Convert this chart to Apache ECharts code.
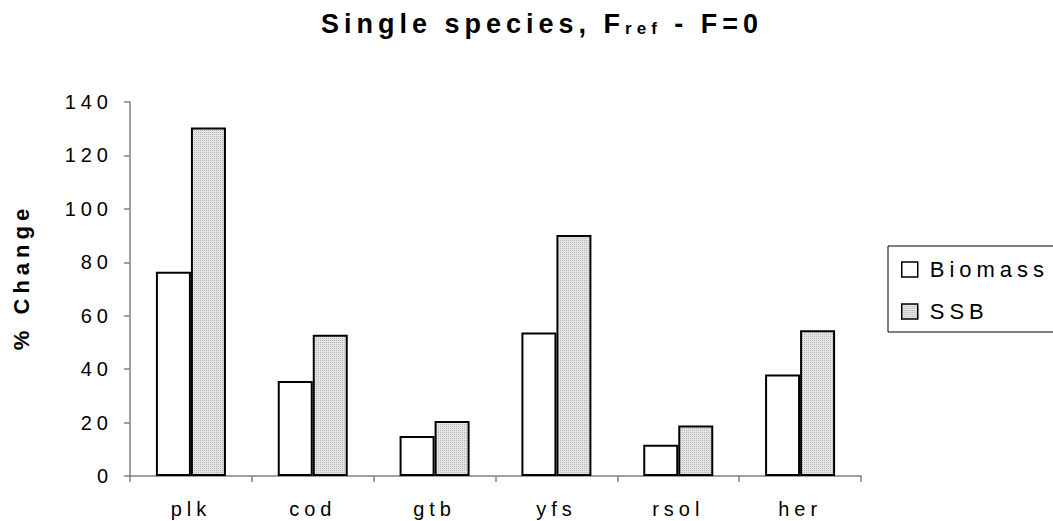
<!DOCTYPE html>
<html>
<head>
<meta charset="utf-8">
<script src="https://cdn.jsdelivr.net/npm/echarts@6/dist/echarts.min.js"></script>
<style>
html,body{margin:0;padding:0;background:#fff;}
#main{width:1053px;height:521px;}
#main text{letter-spacing:5px;}
</style>
</head>
<body>
<div id="main"></div>
<script>
const categories = ['plk', 'cod', 'gtb', 'yfs', 'rsol', 'her'];
const biomass = [76.5, 35.6, 15.0, 53.7, 11.7, 38.0];
const ssb = [130.5, 52.9, 20.6, 90.2, 18.9, 54.6];
const yTicks = { min: 0, max: 140, interval: 20 };

const LS = 5;
const mctx = document.createElement('canvas').getContext('2d');
echarts.setPlatformAPI({
  measureText: function (text, font) {
    mctx.font = font || '12px sans-serif';
    const m = mctx.measureText(text || '');
    return {
      width: m.width + (text ? text.length : 0) * LS,
      actualBoundingBoxAscent: m.actualBoundingBoxAscent,
      actualBoundingBoxDescent: m.actualBoundingBoxDescent
    };
  }
});

// dotted light-gray fill
const pc = document.createElement('canvas');
pc.width = 2; pc.height = 2;
const pctx = pc.getContext('2d');
pctx.fillStyle = '#e4e4e4'; pctx.fillRect(0, 0, 2, 2);
pctx.fillStyle = '#b8b8b8'; pctx.fillRect(0, 0, 1, 1);
const ssbFill = { image: pc.toDataURL(), repeat: 'repeat', imageWidth: 2, imageHeight: 2 };

const FONT = 'Liberation Sans, Arial, sans-serif';
const chart = echarts.init(document.getElementById('main'), null, { renderer: 'svg' });
chart.setOption({
  animation: false,
  backgroundColor: '#fff',
  title: {
    text: 'Single species, F{s|ref} - F=0',
    left: 316,
    top: 3,
    textStyle: {
      fontFamily: FONT, fontWeight: 'bold', fontSize: 27, color: '#000',
      rich: {
        s: { fontFamily: FONT, fontWeight: 'bold', fontSize: 17, color: '#000', verticalAlign: 'bottom', lineHeight: 31, padding: [0, 0, 1, 0] }
      }
    }
  },
  legend: {
    orient: 'vertical',
    left: 888,
    top: 246,
    padding: [10, 60, 7, 13],
    itemGap: 15,
    itemWidth: 16,
    itemHeight: 15,
    borderColor: '#000',
    borderWidth: 1,
    icon: 'rect',
    itemStyle: { borderColor: '#000', borderWidth: 1.5 },
    textStyle: { fontFamily: FONT, fontSize: 22, color: '#000', padding: [0, 0, 0, 7] },
    data: ['Biomass', 'SSB']
  },
  grid: { left: 128, right: 192, top: 102, bottom: 45, containLabel: false },
  xAxis: {
    type: 'category',
    data: categories,
    axisLine: { lineStyle: { color: '#808080', width: 1.5 } },
    axisTick: { show: true, length: 6, lineStyle: { color: '#808080', width: 1.5 } },
    axisLabel: { fontFamily: FONT, fontSize: 20, color: '#000', margin: 20 },
    splitLine: { show: false }
  },
  yAxis: {
    type: 'value',
    min: yTicks.min, max: yTicks.max, interval: yTicks.interval,
    name: '% Change',
    nameLocation: 'middle',
    nameGap: 95,
    nameRotate: 90,
    nameTextStyle: { fontFamily: FONT, fontWeight: 'bold', fontSize: 22, color: '#000', padding: [0, 0, 0, 24] },
    axisLine: { show: true, lineStyle: { color: '#808080', width: 1.5 } },
    axisTick: { show: true, length: 6, lineStyle: { color: '#808080', width: 1.5 } },
    axisLabel: { fontFamily: FONT, fontSize: 20, color: '#000', margin: 17 },
    splitLine: { show: false }
  },
  series: [
    {
      name: 'Biomass', type: 'bar', data: biomass,
      barWidth: 35, barGap: '0%',
      itemStyle: { color: '#ffffff', borderColor: '#000', borderWidth: 2 }
    },
    {
      name: 'SSB', type: 'bar', data: ssb,
      barWidth: 35, barGap: '0%',
      itemStyle: { color: ssbFill, borderColor: '#000', borderWidth: 2 }
    }
  ]
});
</script>
</body>
</html>
